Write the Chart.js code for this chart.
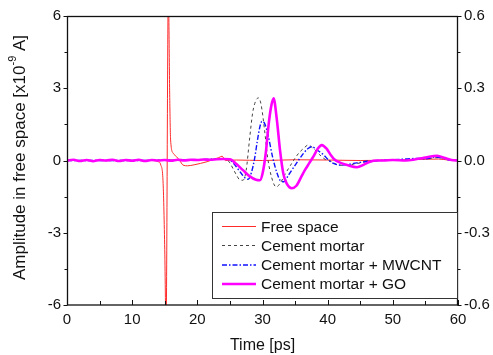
<!DOCTYPE html>
<html>
<head>
<meta charset="utf-8">
<script src="https://cdn.jsdelivr.net/npm/chart.js@4.4.0/dist/chart.umd.min.js"></script>
<style>
  html, body { margin: 0; padding: 0; background: #fff; }
  #wrap { width: 493px; height: 355px; }
</style>
</head>
<body>
<div id="wrap"><canvas id="chart" width="493" height="355"></canvas></div>
<script>
// Data (time in ps, amplitude in x10^-9 A)
const freeTime = [0, 5, 10, 13, 14, 14.4, 14.75, 15.0, 15.2, 15.55, 15.77, 15.9, 16.3, 16.8, 17.3, 17.8, 18.5, 19.5, 20.5, 21.5, 22.5, 23.3, 23.8, 24.3, 26, 30, 35, 40, 45, 50, 55, 57, 58.5, 60];
const freeAmp = [0, 0, 0, 0, -0.05, -0.19, -0.95, -3.7, -7, 7, 2.5, 0.85, 0.3, 0.16, 0, -0.19, -0.22, -0.18, -0.12, -0.05, 0.05, 0.12, 0.18, 0, 0.02, 0, 0.03, 0.02, 0, 0.02, 0.05, 0.06, 0.02, 0];

const mortarTime = [0, 5, 10, 15, 18, 20, 22, 23, 24, 24.5, 25, 25.5, 26, 26.5, 27, 27.5, 28, 28.5, 29, 29.4, 29.8, 30.3, 30.8, 31.4, 32.1, 32.7, 33.5, 34.3, 35, 35.7, 36.3, 37, 37.8, 38.8, 39.6, 40.4, 41.7, 43, 44, 45, 46, 48, 50, 52, 54, 56, 57, 58, 60];
const mortarAmp = [0, 0, 0, 0.02, 0.03, 0.04, 0.05, 0.06, 0.08, 0.05, -0.1, -0.35, -0.6, -0.8, -0.82, -0.4, 0.85, 2.0, 2.5, 2.6, 2.3, 1.3, 0.1, -0.7, -1.1, -0.95, -0.55, -0.2, 0.1, 0.35, 0.5, 0.64, 0.5, 0.23, 0.05, -0.02, -0.19, -0.2, -0.15, -0.1, -0.05, 0, 0.02, 0.04, 0.05, 0.1, 0.12, 0.08, 0];

const mwcntTime = [0, 5, 10, 15, 20, 22, 23, 24, 25, 25.5, 26.5, 27.3, 27.8, 28.3, 28.8, 29.2, 29.6, 29.9, 30.3, 30.9, 31.5, 32.2, 32.8, 33.3, 34, 34.7, 35.5, 36.3, 37, 37.6, 38.3, 39.4, 40.2, 40.9, 41.9, 43, 44, 45, 46, 48, 50, 52, 54, 55, 56.5, 57.5, 58.5, 60];
const mwcntAmp = [0, 0, 0, 0.01, 0.03, 0.05, 0.06, 0.08, 0.02, -0.1, -0.45, -0.72, -0.78, -0.5, 0.1, 0.8, 1.4, 1.62, 1.55, 1.0, 0.2, -0.5, -0.85, -0.88, -0.6, -0.32, 0, 0.3, 0.5, 0.57, 0.45, 0.23, 0, -0.12, -0.19, -0.17, -0.12, -0.08, -0.03, 0, 0.03, 0.06, 0.09, 0.07, 0.14, 0.1, 0.03, 0];

const goTime = [0, 1, 2, 3, 4, 5, 6, 7, 8, 9, 10, 11, 12, 13, 14, 15, 16, 17, 18, 19, 20, 21, 22, 23, 24, 25, 26, 27, 28, 29, 29.6, 30, 30.5, 30.9, 31.3, 31.7, 32.2, 32.7, 33.2, 33.7, 34.5, 35.2, 36, 36.5, 37.2, 37.8, 38.5, 39.1, 39.8, 40.5, 41, 42, 43, 44.5, 45.5, 46.5, 47.5, 48.5, 50, 52, 53.5, 55, 56.8, 58, 59, 60];
const goAmp = [0, 0.03, -0.02, 0.02, -0.03, 0.02, 0, 0.03, -0.02, 0.02, -0.01, 0.03, -0.02, 0.02, 0, 0.02, -0.01, 0.03, 0, 0.03, 0.02, 0.04, 0.03, 0.05, 0.06, 0.05, -0.15, -0.4, -0.65, -0.8, -0.82, -0.55, 0.3, 1.4, 2.2, 2.58, 1.7, 0.4, -0.55, -0.95, -1.15, -1.05, -0.65, -0.4, -0.1, 0.16, 0.5, 0.64, 0.5, 0.22, 0.05, -0.1, -0.19, -0.28, -0.18, -0.05, 0, 0, 0.02, 0, 0.05, 0.12, 0.2, 0.1, 0.02, 0];

const seriesNames = ["Free space", "Cement mortar", "Cement mortar + MWCNT", "Cement mortar + GO"];
const leftTickLabels = ["-6", "-3", "0", "3", "6"];
const rightTickLabels = ["-0.6", "-0.3", "0.0", "0.3", "0.6"];

const FONT = "'Liberation Sans', Arial, sans-serif";

function toPoints(ts, vs) {
    return ts.map((t, i) => ({ x: t, y: vs[i] }));
}

// Frame, inward/outward ticks, y title with superscript, legend box
const decorPlugin = {
    id: "decor",
    afterDraw(chart) {
        const ctx = chart.ctx;
        const a = chart.chartArea;
        const xs = chart.scales.x;
        const ys = chart.scales.y;
        const L = 67.5, R = 457.5, T = a.top + 0.5, B = a.bottom;

        ctx.save();
        ctx.strokeStyle = "#111";
        ctx.lineWidth = 1.3;
        ctx.strokeRect(L, T, R - L, B - T);

        ctx.lineWidth = 1;
        ctx.beginPath();
        // x ticks, pointing inward
        for (let t = 0; t <= 60; t += 5) {
            const px = Math.round(xs.getPixelForValue(t)) + 0.5;
            const len = t % 10 === 0 ? 5 : 4;
            ctx.moveTo(px, B);
            ctx.lineTo(px, B - len);
        }
        // y ticks, pointing outward on both sides
        for (let v = -6; v <= 6; v += 1.5) {
            const py = Math.round(ys.getPixelForValue(v)) + 0.5;
            const len = v % 3 === 0 ? 4 : 3;
            ctx.moveTo(L, py);
            ctx.lineTo(L - len, py);
            ctx.moveTo(R, py);
            ctx.lineTo(R + len, py);
        }
        ctx.stroke();

        // y axis title
        ctx.fillStyle = "#111";
        ctx.textBaseline = "middle";
        const mainFont = "17px " + FONT;
        const supFont = "11px " + FONT;
        const p1 = "Amplitude in free space [x10";
        const p2 = "-9";
        const p3 = " A]";
        ctx.font = mainFont;
        const w1 = ctx.measureText(p1).width;
        const w3 = ctx.measureText(p3).width;
        ctx.font = supFont;
        const w2 = ctx.measureText(p2).width;
        const total = w1 + w2 + w3;
        ctx.translate(20, 157.5);
        ctx.rotate(-Math.PI / 2);
        let x0 = -total / 2;
        ctx.textAlign = "left";
        ctx.font = mainFont;
        ctx.fillText(p1, x0, 0);
        ctx.font = supFont;
        ctx.fillText(p2, x0 + w1, -7);
        ctx.font = mainFont;
        ctx.fillText(p3, x0 + w1 + w2, 0);
        ctx.setTransform(1, 0, 0, 1, 0, 0);

        // legend
        ctx.fillStyle = "#fff";
        ctx.fillRect(212.5, 212.5, 245, 86);
        ctx.strokeStyle = "#333";
        ctx.lineWidth = 1;
        ctx.strokeRect(212.5, 212.5, 245, 86);
        const rows = [226.5, 245.5, 265, 284];
        chart.data.datasets.forEach((ds, i) => {
            const y = rows[i];
            ctx.save();
            ctx.strokeStyle = ds.borderColor;
            ctx.lineWidth = ds.borderWidth;
            ctx.setLineDash(ds.borderDash || []);
            ctx.beginPath();
            ctx.moveTo(222, y);
            ctx.lineTo(256, y);
            ctx.stroke();
            ctx.restore();
            ctx.fillStyle = "#111";
            ctx.font = "15.5px " + FONT;
            ctx.textAlign = "left";
            ctx.textBaseline = "middle";
            ctx.fillText(ds.label, 261, y + 1);
        });
        ctx.restore();
    }
};

new Chart(document.getElementById("chart"), {
    type: "line",
    data: {
        datasets: [
            {
                label: seriesNames[0],
                data: toPoints(freeTime, freeAmp),
                borderColor: "#ff2a2a",
                borderWidth: 1,
                order: 4
            },
            {
                label: seriesNames[1],
                data: toPoints(mortarTime, mortarAmp),
                borderColor: "#444",
                borderWidth: 1,
                borderDash: [3, 3],
                order: 3
            },
            {
                label: seriesNames[2],
                data: toPoints(mwcntTime, mwcntAmp),
                borderColor: "#1010ff",
                borderWidth: 1.4,
                borderDash: [5, 2, 1.5, 2],
                order: 2
            },
            {
                label: seriesNames[3],
                data: toPoints(goTime, goAmp),
                borderColor: "#ff00ff",
                borderWidth: 2.6,
                order: 1
            }
        ]
    },
    options: {
        responsive: false,
        animation: false,
        layout: { padding: { top: 16, left: 0, right: 0, bottom: 0 } },
        elements: {
            point: { radius: 0 },
            line: { cubicInterpolationMode: "monotone", fill: false }
        },
        plugins: {
            legend: { display: false },
            tooltip: { enabled: false }
        },
        scales: {
            x: {
                type: "linear",
                min: 0,
                max: 60,
                border: { display: false },
                grid: { display: false, drawTicks: false, tickLength: 0 },
                ticks: {
                    stepSize: 10,
                    padding: 6,
                    color: "#111",
                    font: { family: FONT, size: 15 },
                    maxRotation: 0
                },
                title: {
                    display: true,
                    text: "Time [ps]",
                    color: "#111",
                    font: { family: FONT, size: 16 },
                    padding: { top: 0, bottom: 0 }
                },
                afterFit: s => { s.height = 50; }
            },
            y: {
                position: "left",
                min: -6,
                max: 6,
                border: { display: false },
                grid: { display: false, drawTicks: false, tickLength: 0 },
                ticks: {
                    stepSize: 3,
                    padding: 6,
                    color: "#111",
                    font: { family: FONT, size: 15 },
                    callback: (v, i) => leftTickLabels[i]
                },
                afterFit: s => { s.width = 67; }
            },
            y2: {
                position: "right",
                min: -0.6,
                max: 0.6,
                border: { display: false },
                grid: { display: false, drawTicks: false, tickLength: 0 },
                ticks: {
                    count: 5,
                    padding: 6,
                    color: "#111",
                    font: { family: FONT, size: 15 },
                    callback: (v, i) => rightTickLabels[i]
                },
                afterFit: s => { s.width = 35; }
            }
        }
    },
    plugins: [decorPlugin]
});
</script>
</body>
</html>
